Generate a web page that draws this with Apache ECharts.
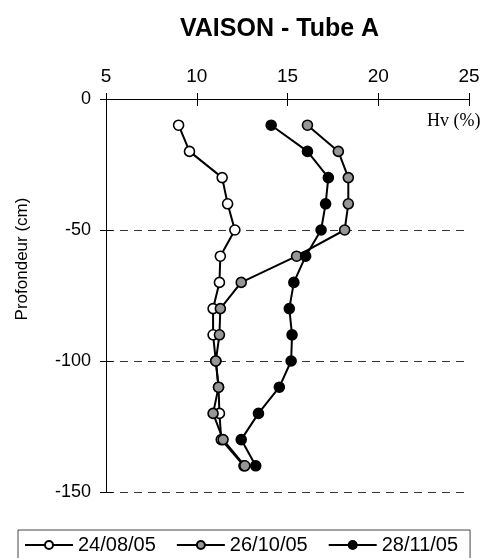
<!DOCTYPE html>
<html>
<head>
<meta charset="utf-8">
<script src="https://cdn.jsdelivr.net/npm/echarts@6/dist/echarts.min.js"></script>
<style>
html,body{margin:0;padding:0;background:#fff;}
#chart{width:497px;height:558px;}
</style>
</head>
<body>
<div id="chart"></div>
<script>
// profondeurs (cm) et humidite volumique Hv (%)
var depths = [-10, -20, -30, -40, -50, -60, -70, -80, -90, -100, -110, -120, -130, -140];
var hv_240805 = [9.0, 9.6, 11.4, 11.7, 12.1, 11.3, 11.25, 10.9, 10.9, 11.05, 11.2, 11.25, 11.35, 12.6];
var hv_261005 = [16.1, 17.8, 18.35, 18.35, 18.15, 15.5, 12.45, 11.3, 11.25, 11.05, 11.2, 10.9, 11.45, 12.65];
var hv_281105 = [14.1, 16.1, 17.25, 17.1, 16.85, 16.0, 15.35, 15.1, 15.25, 15.2, 14.55, 13.4, 12.45, 13.25];
var seriesNames = ["24/08/05", "26/10/05", "28/11/05"];
var xTicks = [5, 10, 15, 20, 25];
var yTicks = [0, -50, -100, -150];

function pairs(vals){
	var out = [];
	for(var i = 0; i < vals.length; i++){
		out.push([vals[i], depths[i]]);
	}
	return out;
}

function mkSeries(name, vals, fill){
	return {
		name : name,
		type : 'line',
		data : pairs(vals),
		symbol : 'circle',
		symbolSize : 10,
		lineStyle : {color:'#000', width:2},
		itemStyle : {color:fill, borderColor:'#000', borderWidth:1.6},
		emphasis : {disabled:true},
		animation : false
	};
}

var mycharts = echarts.init(document.getElementById('chart'));
var font = 'Arial, "Liberation Sans", sans-serif';

var option = {
	backgroundColor : '#fff',
	title : {
		text : 'VAISON - Tube A',
		left : 175,
		top : 12,
		textStyle : {fontFamily:font, fontSize:25, fontWeight:'bold', color:'#000'}
	},
	grid : {left:106, right:28, top:99, bottom:66},
	xAxis : [{
		type : 'value',
		position : 'top',
		min : xTicks[0],
		max : xTicks[xTicks.length-1],
		interval : 5,
		axisLine : {show:true, lineStyle:{color:'#000', width:1}},
		axisTick : {show:true, length:6, lineStyle:{color:'#000'}},
		axisLabel : {margin:13, color:'#000', fontFamily:font, fontSize:19},
		splitLine : {show:false}
	},{
		// ticks interieurs (croisent l'axe)
		type : 'value',
		position : 'top',
		min : xTicks[0],
		max : xTicks[xTicks.length-1],
		interval : 5,
		axisLine : {show:false},
		axisTick : {show:true, inside:true, length:7, lineStyle:{color:'#000'}},
		axisLabel : {show:false},
		splitLine : {show:false}
	}],
	yAxis : [{
		type : 'value',
		min : yTicks[yTicks.length-1],
		max : yTicks[0],
		interval : 50,
		axisLine : {show:true, lineStyle:{color:'#000', width:1}},
		axisTick : {show:true, length:6, lineStyle:{color:'#000'}},
		axisLabel : {margin:15, color:'#000', fontFamily:font, fontSize:18},
		splitLine : {show:true, lineStyle:{color:'#333', width:1, type:[8,6]}}
	},{
		type : 'value',
		position : 'left',
		min : yTicks[yTicks.length-1],
		max : yTicks[0],
		interval : 50,
		axisLine : {show:false},
		axisTick : {show:true, inside:true, length:7, lineStyle:{color:'#000'}},
		axisLabel : {show:false},
		splitLine : {show:false}
	}],
	legend : {
		left : 18,
		top : 530,
		padding : [5, 12, 8, 6],
		borderColor : '#444',
		borderWidth : 1,
		itemWidth : 48,
		itemHeight : 10,
		itemGap : 20,
		textStyle : {fontFamily:font, fontSize:20, color:'#000'},
		data : seriesNames
	},
	graphic : [{
		type : 'text',
		left : 427,
		top : 112,
		style : {text:'Hv (%)', fontFamily:'"Liberation Serif", "Times New Roman", serif', fontSize:18, fill:'#000'}
	},{
		type : 'text',
		x : 22,
		y : 259,
		rotation : Math.PI/2,
		style : {text:'Profondeur (cm)', fontFamily:font, fontSize:17, fill:'#000', align:'center', verticalAlign:'middle'}
	}],
	series : [
		mkSeries(seriesNames[0], hv_240805, '#fff'),
		mkSeries(seriesNames[1], hv_261005, '#969696'),
		mkSeries(seriesNames[2], hv_281105, '#000')
	]
};
mycharts.setOption(option);
</script>
</body>
</html>
